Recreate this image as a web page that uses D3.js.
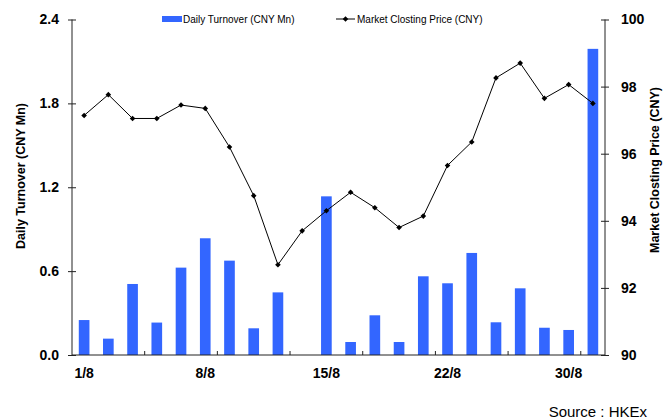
<!DOCTYPE html>
<html>
<head>
<meta charset="utf-8">
<script src="https://cdn.jsdelivr.net/npm/d3@7/dist/d3.min.js"></script>
<style>
  html, body { margin: 0; padding: 0; background: #fff; }
  svg { display: block; font-family: "Liberation Sans", Arial, Helvetica, sans-serif; }
</style>
</head>
<body>
<svg id="chart" width="663" height="420"></svg>
<script>
// ---- data ----
const dates = ["1/8","2/8","5/8","6/8","7/8","8/8","9/8","12/8","13/8","14/8","15/8",
               "16/8","19/8","20/8","21/8","22/8","23/8","26/8","27/8","28/8","30/8","31/8"];
const turnover = [0.25, 0.117, 0.508, 0.232, 0.625, 0.835, 0.675, 0.191, 0.448, 0, 1.135,
                  0.093, 0.284, 0.093, 0.563, 0.513, 0.73, 0.234, 0.477, 0.195, 0.179, 2.19];
const price = [97.14, 97.76, 97.05, 97.05, 97.45, 97.35, 96.2, 94.75, 92.69, 93.7, 94.3,
               94.85, 94.39, 93.8, 94.14, 95.65, 96.35, 98.26, 98.7, 97.65, 98.06, 97.5];
const xLabels = ["1/8","8/8","15/8","22/8","30/8"];
const leftTicks = [0, 0.6, 1.2, 1.8, 2.4];
const rightTicks = [90, 92, 94, 96, 98, 100];
const seriesNames = ["Daily Turnover (CNY Mn)", "Market Closting Price (CNY)"];

// ---- layout ----
const svg = d3.select("#chart");
const L = 72, R = 605, T = 19.5, B = 355;
const barColor = "#3366FF";

const x = d3.scaleBand().domain(dates).range([L, R]).paddingInner(0.56).paddingOuter(0.28);
const xi = d3.scaleLinear().domain([0, dates.length]).range([L, R]);
const yL = d3.scaleLinear().domain([0, 2.4]).range([B, T]);
const yR = d3.scaleLinear().domain([90, 100]).range([B, T]);

// bars
svg.append("g").selectAll("rect").data(turnover).join("rect")
  .attr("x", (d, i) => x(dates[i]))
  .attr("y", d => yL(d))
  .attr("width", x.bandwidth())
  .attr("height", d => B - yL(d))
  .attr("fill", barColor);

// line
const cx = i => x(dates[i]) + x.bandwidth() / 2;
svg.append("path")
  .datum(price)
  .attr("fill", "none")
  .attr("stroke", "#000")
  .attr("stroke-width", 1)
  .attr("d", d3.line().x((d, i) => cx(i)).y(d => yR(d)));

const diamond = (px, py, s) => `M${px},${py - s}L${px + s},${py}L${px},${py + s}L${px - s},${py}Z`;
svg.append("g").selectAll("path").data(price).join("path")
  .attr("d", (d, i) => diamond(cx(i), yR(d), 2.8))
  .attr("fill", "#000");

// left axis
const axisColor = "#222";
const gL = svg.append("g").attr("transform", `translate(${L},0)`)
  .call(d3.axisLeft(yL).tickValues(leftTicks).tickFormat(d3.format(".1f")).tickSizeInner(4).tickSizeOuter(0).tickPadding(9));
gL.selectAll(".tick line").attr("x2", 4).attr("x1", -4);
// right axis
const gR = svg.append("g").attr("transform", `translate(${R},0)`)
  .call(d3.axisRight(yR).tickValues(rightTicks).tickFormat(d3.format("d")).tickSizeInner(4).tickSizeOuter(0).tickPadding(12));
gR.selectAll(".tick line").attr("x1", -4).attr("x2", 4);

[gL, gR].forEach(g => {
  g.select(".domain").attr("stroke", axisColor).attr("d", `M0,${T}V${B}`);
  g.selectAll(".tick line").attr("stroke", axisColor);
  g.selectAll(".tick text").attr("font-size", 14).attr("font-weight", "bold")
    .attr("fill", "#000").attr("font-family", "'Liberation Sans', Arial, sans-serif");
});

// bottom axis: baseline, ticks every 3 categories (inward), labels every 5
const gB = svg.append("g");
gB.append("line").attr("x1", L).attr("x2", R).attr("y1", B).attr("y2", B).attr("stroke", axisColor);
gB.selectAll("line.tk").data(d3.range(3, dates.length + 1, 3)).join("line")
  .attr("class", "tk")
  .attr("x1", d => xi(d)).attr("x2", d => xi(d))
  .attr("y1", B).attr("y2", B - 4)
  .attr("stroke", axisColor);
gB.selectAll("text").data(xLabels).join("text")
  .attr("x", d => x(d) + x.bandwidth() / 2)
  .attr("y", 378)
  .attr("text-anchor", "middle")
  .attr("font-size", 14).attr("font-weight", "bold")
  .text(d => d);

// axis titles
svg.append("text")
  .attr("transform", `translate(25,176) rotate(-90)`)
  .attr("text-anchor", "middle")
  .attr("font-size", 12.5).attr("font-weight", "bold")
  .text("Daily Turnover (CNY Mn)");
svg.append("text")
  .attr("transform", `translate(659,170) rotate(-90)`)
  .attr("text-anchor", "middle")
  .attr("font-size", 12.5).attr("font-weight", "bold")
  .text("Market Closting Price (CNY)");

// legend
const lg = svg.append("g");
lg.append("rect").attr("x", 162).attr("y", 16).attr("width", 20).attr("height", 6).attr("fill", barColor);
lg.append("text").attr("x", 183).attr("y", 22.5).attr("font-size", 10).text(seriesNames[0]);
lg.append("line").attr("x1", 336).attr("x2", 355).attr("y1", 19).attr("y2", 19).attr("stroke", "#000");
lg.append("path").attr("d", diamond(345.5, 19, 2.8)).attr("fill", "#000");
lg.append("text").attr("x", 357).attr("y", 22.5).attr("font-size", 10).text(seriesNames[1]);

// source
svg.append("text")
  .attr("x", 647).attr("y", 417)
  .attr("text-anchor", "end")
  .attr("font-size", 15)
  .text("Source : HKEx");
</script>
</body>
</html>
